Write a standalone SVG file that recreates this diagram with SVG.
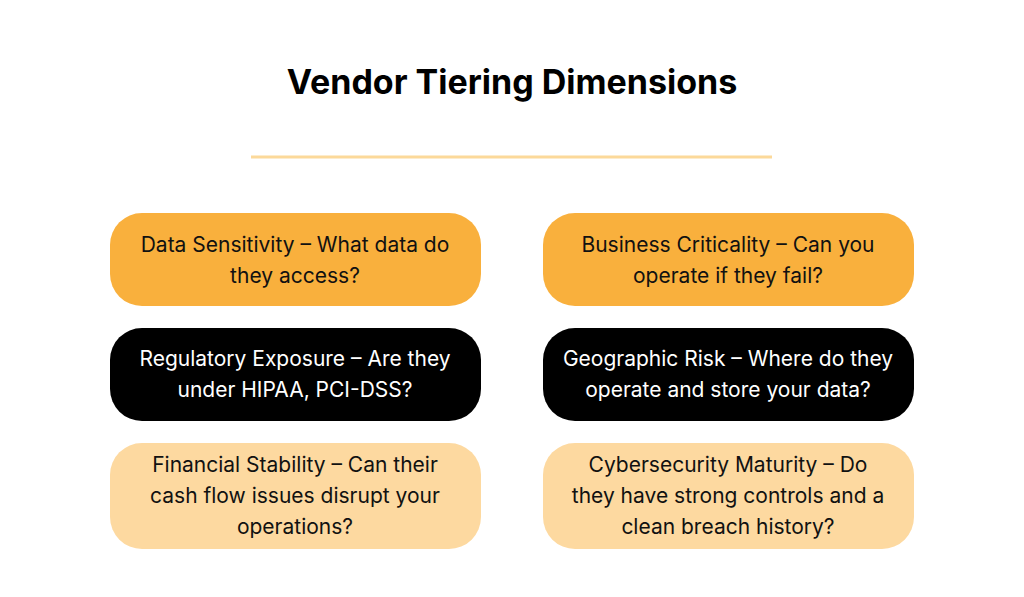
<svg xmlns="http://www.w3.org/2000/svg" width="1024" height="597" viewBox="0 0 1024 597">
<style>
.t{font-family:Inter,"DejaVu Sans",sans-serif;font-size:21px;text-anchor:middle}
.d{fill:#111}.w{fill:#fff}
.o{fill:#f9b03d}.k{fill:#000}.l{fill:#fdd9a0}
</style>
<rect width="1024" height="597" fill="#fff"/>
<text x="512" y="94" font-family="Inter,'DejaVu Sans',sans-serif" font-size="34" font-weight="700" text-anchor="middle" fill="#000">Vendor Tiering Dimensions</text>
<g id="connectors"><line x1="251" y1="157" x2="772" y2="157" stroke="#fcd99a" stroke-width="3"/></g>
<g id="n1"><rect class="o" x="110" y="213" width="371" height="93" rx="32"/><text class="t d" x="295" y="252">Data Sensitivity – What data do</text><text class="t d" x="295" y="283">they access?</text></g>
<g id="n2"><rect class="o" x="543" y="213" width="371" height="93" rx="32"/><text class="t d" x="728" y="252">Business Criticality – Can you</text><text class="t d" x="728" y="283">operate if they fail?</text></g>
<g id="n3"><rect class="k" x="110" y="328" width="371" height="93" rx="32"/><text class="t w" x="295" y="366">Regulatory Exposure – Are they</text><text class="t w" x="295" y="397">under HIPAA, PCI-DSS?</text></g>
<g id="n4"><rect class="k" x="543" y="328" width="371" height="93" rx="32"/><text class="t w" x="728" y="366">Geographic Risk – Where do they</text><text class="t w" x="728" y="397">operate and store your data?</text></g>
<g id="n5"><rect class="l" x="110" y="443" width="371" height="106" rx="32"/><text class="t d" x="295" y="472">Financial Stability – Can their</text><text class="t d" x="295" y="503">cash flow issues disrupt your</text><text class="t d" x="295" y="534">operations?</text></g>
<g id="n6"><rect class="l" x="543" y="443" width="371" height="106" rx="32"/><text class="t d" x="728" y="472">Cybersecurity Maturity – Do</text><text class="t d" x="728" y="503">they have strong controls and a</text><text class="t d" x="728" y="534">clean breach history?</text></g>
</svg>
